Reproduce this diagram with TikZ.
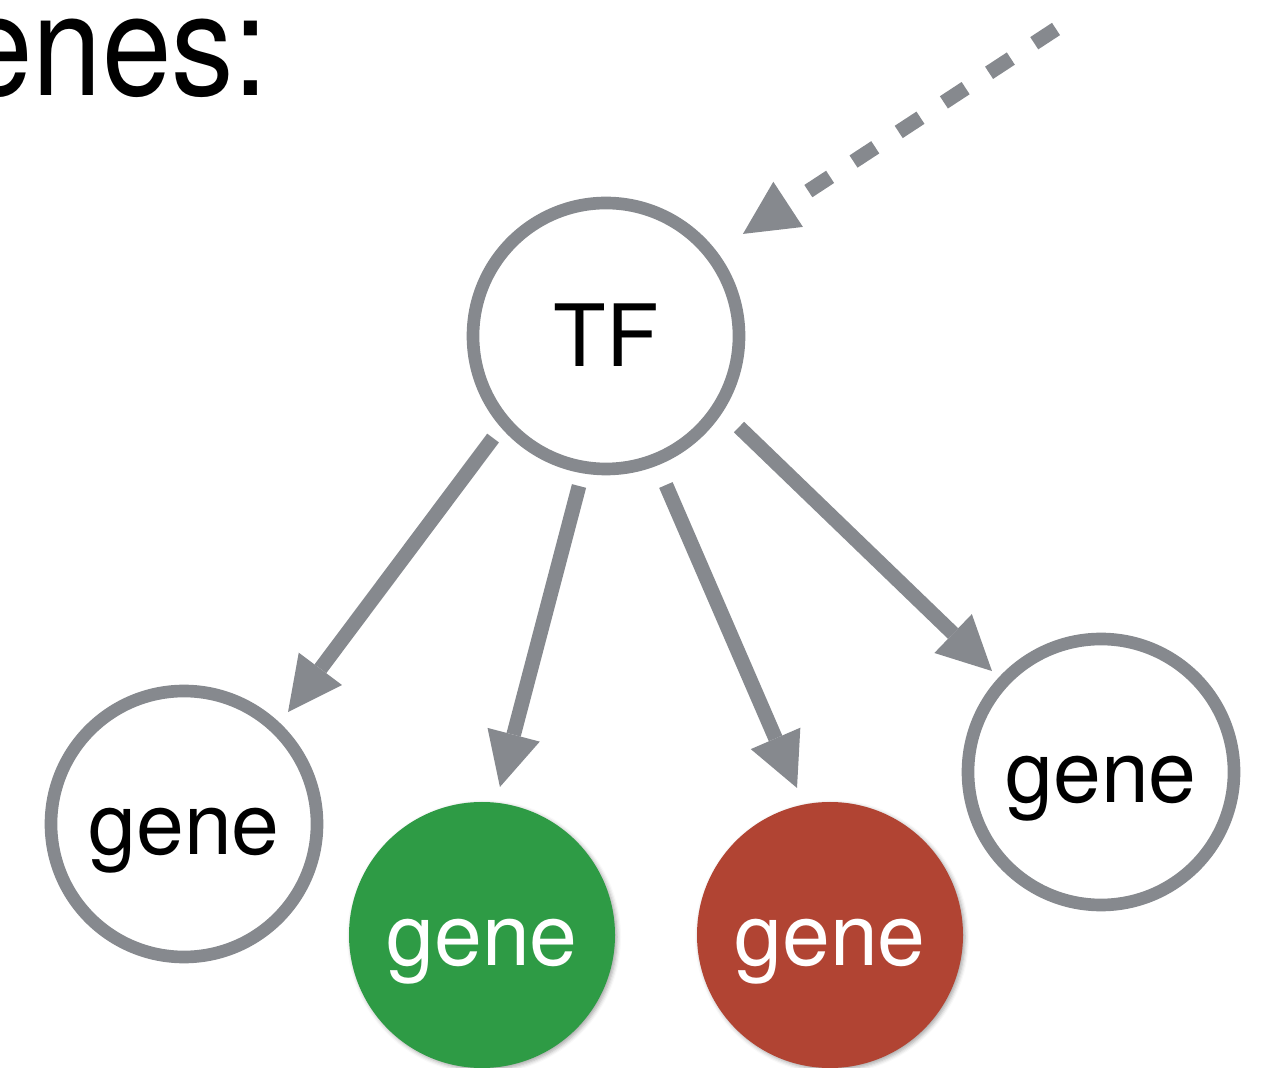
\documentclass[tikz,border=0pt]{standalone}
\usepackage{fontspec}
\setmainfont{TeX Gyre Heros}
\usetikzlibrary{arrows.meta,calc,shadows.blur}
\definecolor{edgegray}{RGB}{134,137,142}
\definecolor{genegreen}{RGB}{46,155,69}
\definecolor{genered}{RGB}{177,68,51}
\begin{document}
\begin{tikzpicture}[x=0.75pt,y=0.75pt,
  basecirc/.style={circle, minimum size=199.5pt, inner sep=0pt,
    text height=46.5pt, text depth=0pt,
    font=\fontsize{64.5pt}{70pt}\selectfont},
  plaingene/.style={basecirc, draw=edgegray, line width=9.5pt, fill=white},
  filledgene/.style={basecirc, text=white,
    blur shadow={shadow xshift=1.5pt, shadow yshift=-1.5pt,
      shadow blur radius=3pt, shadow opacity=35}},
  arr/.style={draw=edgegray, line width=11pt,
    -{Triangle[length=40.5pt,width=40.5pt,line width=0pt]}},
  dasharr/.style={arr, dash pattern=on 19.5pt off 21pt}
]
\useasboundingbox (0,0) rectangle (1270,1067);

\node[anchor=base east, inner sep=0pt, font=\fontsize{106.5pt}{110pt}\selectfont]
  (title) at (269,971) {\scalebox{0.88}[1]{enes:}};

\node[plaingene] (tf) at (606,731) {TF};
\node[plaingene] (g1) at (184,243) {gene};
\node[filledgene, fill=genegreen] (g2) at (482,132) {gene};
\node[filledgene, fill=genered] (g3) at (830,132) {gene};
\node[plaingene] (g4) at (1101,295) {gene};

\draw[arr] ($(tf.center)+(222.1:152.2)$) -- ($(g1.center)+(47.1:152.8)$);
\draw[arr] ($(tf.center)+(259.8:152.4)$) -- ($(g2.center)+(83.1:149.1)$);
\draw[arr] ($(tf.center)+(291.9:160.6)$) -- ($(g3.center)+(102.65:150.7)$);
\draw[arr] ($(tf.center)+(325.6:161.2)$) -- ($(g4.center)+(137.2:148.6)$);

\coordinate (src) at (1056,1038);
\draw[dasharr] (src) -- ($(tf.center)+(36.7:170.8)$);
\end{tikzpicture}
\end{document}
